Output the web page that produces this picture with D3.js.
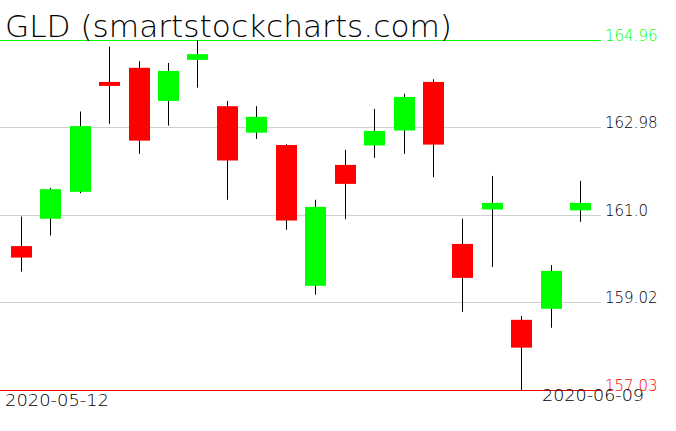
<!DOCTYPE html>
<html>
<head>
<meta charset="utf-8">
<script src="https://cdn.jsdelivr.net/npm/d3@7"></script>
<style>
  html, body { margin: 0; padding: 0; background: #fff; }
  svg { display: block; }
  text { font-family: "DejaVu Sans", sans-serif; font-weight: 200; }
</style>
</head>
<body>
<svg id="chart" width="676" height="431"></svg>
<script>
const title = "GLD (smartstockcharts.com)";
const dates = ["2020-05-12","2020-05-13","2020-05-14","2020-05-15","2020-05-18","2020-05-19","2020-05-20","2020-05-21","2020-05-22","2020-05-26","2020-05-27","2020-05-28","2020-05-29","2020-06-01","2020-06-02","2020-06-03","2020-06-04","2020-06-05","2020-06-08","2020-06-09"];
const opens  = [160.29,160.91,161.52,164.01,164.33,163.58,164.51,163.46,162.86,162.58,159.39,162.13,162.57,162.91,164.01,160.34,161.12,158.62,158.87,161.10];
const highs  = [160.96,161.61,163.34,164.81,164.48,164.44,164.96,163.58,163.46,162.60,161.34,162.47,163.40,163.74,164.07,160.91,161.88,158.71,159.86,161.77];
const lows   = [159.71,160.53,161.49,163.06,162.38,163.02,163.88,161.34,162.72,160.66,159.19,160.90,162.29,162.38,161.85,158.80,159.82,157.03,158.44,160.84];
const closes = [160.03,161.58,163.01,163.92,162.68,164.26,164.64,162.23,163.22,160.87,161.18,161.70,162.90,163.67,162.59,159.57,161.27,157.99,159.73,161.27];
const gridTicks = [162.98, 161.0, 159.02];
const gridLabels = ["162.98", "161.0", "159.02"];
const maxLabel = "164.96";
const minLabel = "157.03";

const data = dates.map((d, i) => ({date: d, o: opens[i], h: highs[i], l: lows[i], c: closes[i]}));
const maxV = d3.max(highs), minV = d3.min(lows);

const svg = d3.select("#chart");
const plotRight = 601;
const x = d3.scalePoint().domain(dates).range([20.7, 580.3]);
const y = d3.scaleLinear().domain([minV, maxV]).range([390, 40]);
const bodyW = 21;

// grid lines
svg.append("g").selectAll("line").data(gridTicks).join("line")
  .attr("x1", 0).attr("x2", plotRight)
  .attr("y1", d => Math.round(y(d)) + 0.5).attr("y2", d => Math.round(y(d)) + 0.5)
  .attr("stroke", "#d0d0d0").attr("stroke-width", 1);
svg.append("g").selectAll("text").data(gridTicks).join("text")
  .attr("x", 605).attr("y", d => y(d) + 1)
  .attr("font-size", 15).attr("fill", "#000")
  .text((d, i) => gridLabels[i]);

// max / min lines
svg.append("line").attr("x1", 0).attr("x2", plotRight)
  .attr("y1", Math.round(y(maxV)) + 0.5).attr("y2", Math.round(y(maxV)) + 0.5)
  .attr("stroke", "#00ff00").attr("stroke-width", 1);
svg.append("line").attr("x1", 0).attr("x2", plotRight)
  .attr("y1", Math.round(y(minV)) + 0.5).attr("y2", Math.round(y(minV)) + 0.5)
  .attr("stroke", "#ff0000").attr("stroke-width", 1);
svg.append("text").attr("x", 605).attr("y", y(maxV) + 1)
  .attr("font-size", 15).attr("fill", "#00ff00").text(maxLabel);
svg.append("text").attr("x", 605).attr("y", y(minV) + 1)
  .attr("font-size", 15).attr("fill", "#ff0000").text(minLabel);

// candles
const g = svg.append("g");
g.selectAll("line.wick").data(data).join("line")
  .attr("class", "wick")
  .attr("x1", d => Math.round(x(d.date)) + 0.5).attr("x2", d => Math.round(x(d.date)) + 0.5)
  .attr("y1", d => y(d.h)).attr("y2", d => y(d.l))
  .attr("stroke", "#000").attr("stroke-width", 1);
g.selectAll("rect.body").data(data).join("rect")
  .attr("class", "body")
  .attr("x", d => Math.round(x(d.date)) - 10)
  .attr("width", bodyW)
  .attr("y", d => y(Math.max(d.o, d.c)))
  .attr("height", d => Math.max(1, Math.abs(y(d.o) - y(d.c))))
  .attr("fill", d => d.c >= d.o ? "#00ff00" : "#ff0000");

// title
svg.append("text").attr("x", 5).attr("y", 37)
  .attr("font-size", 30).attr("fill", "#000")
  .attr("textLength", 447).attr("lengthAdjust", "spacingAndGlyphs")
  .text(title);

// date labels
svg.append("text").attr("x", 5).attr("y", 406)
  .attr("font-size", 15).attr("fill", "#000")
  .attr("textLength", 104).attr("lengthAdjust", "spacingAndGlyphs")
  .text(dates[0]);
svg.append("text").attr("x", 542).attr("y", 401)
  .attr("font-size", 15).attr("fill", "#000")
  .attr("textLength", 102).attr("lengthAdjust", "spacingAndGlyphs")
  .text(dates[dates.length - 1]);
</script>
</body>
</html>
